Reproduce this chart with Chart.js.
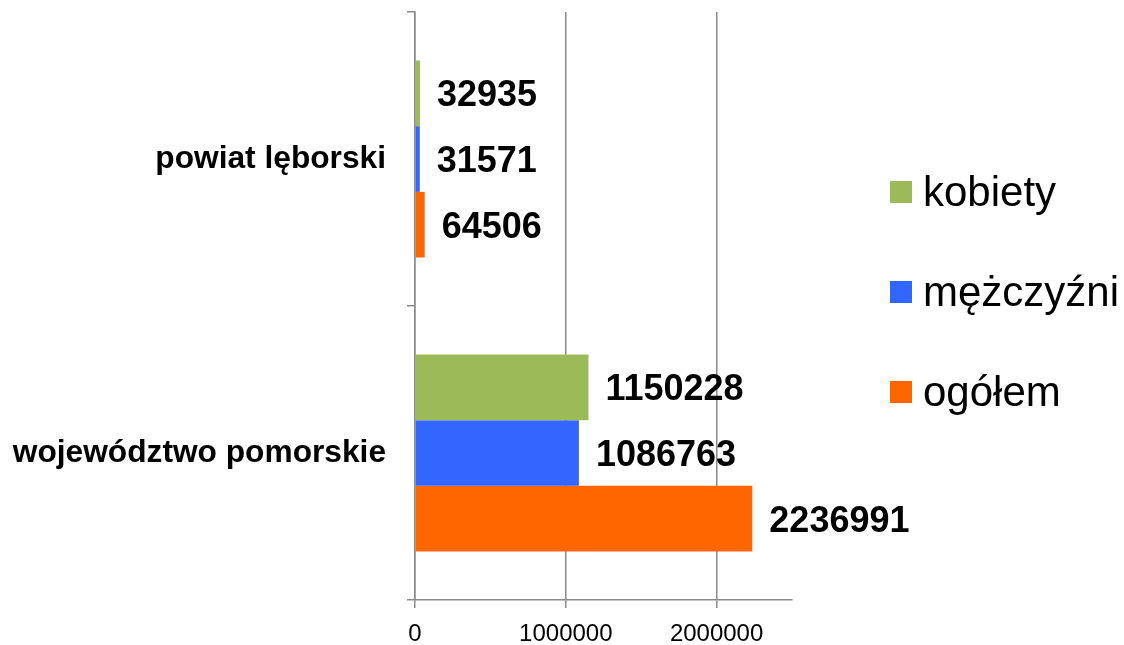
<!DOCTYPE html>
<html>
<head>
<meta charset="utf-8">
<script src="https://cdn.jsdelivr.net/npm/chart.js"></script>
<style>
  body { margin: 0; background: #fff; }
  #wrap { position: relative; width: 1124px; height: 645px; }
  #legend { position: absolute; left: 890px; top: 142px; font-family: "Liberation Sans", Arial, sans-serif; }
  #legend .item { height: 100px; display: flex; align-items: center; font-size: 42px; line-height: 1; color: #000; }
  #legend .box { width: 22px; height: 22px; margin-right: 11px; }
</style>
</head>
<body>
<div id="wrap">
  <canvas id="chart" width="1124" height="645"></canvas>
  <div id="legend"></div>
</div>
<script>
// Data
const categories = ['powiat lęborski', 'województwo pomorskie'];
const kobiety = [32935, 1150228];
const mezczyzni = [31571, 1086763];
const ogolem = [64506, 2236991];
const xTicks = [0, 1000000, 2000000];

const seriesNames = ['kobiety', 'mężczyźni', 'ogółem'];
const seriesColors = ['#9BBB59', '#3366FF', '#FF6600'];
const seriesData = [kobiety, mezczyzni, ogolem];

const gray = '#8a8a8a';
const font = '"Liberation Sans", Arial, sans-serif';

// value labels right of each bar
const valueLabels = {
    id: 'valueLabels',
    afterDatasetsDraw(chart) {
        const ctx = chart.ctx;
        ctx.save();
        ctx.font = 'bold 36px ' + font;
        ctx.fillStyle = '#000';
        ctx.textBaseline = 'middle';
        ctx.textAlign = 'left';
        chart.data.datasets.forEach((ds, i) => {
            chart.getDatasetMeta(i).data.forEach((bar, j) => {
                ctx.fillText(String(ds.data[j]), bar.x + 17, bar.y + 3);
            });
        });
        ctx.restore();
    }
};

new Chart(document.getElementById('chart').getContext('2d'), {
    type: 'bar',
    data: {
        labels: categories,
        datasets: seriesNames.map((name, i) => ({
            label: name,
            data: seriesData[i],
            backgroundColor: seriesColors[i],
            categoryPercentage: 0.67,
            barPercentage: 1.0
        }))
    },
    options: {
        indexAxis: 'y',
        responsive: false,
        animation: false,
        layout: { padding: { top: 12, right: 332, left: 0, bottom: 0 } },
        plugins: { legend: { display: false }, tooltip: { enabled: false } },
        scales: {
            x: {
                min: 0,
                max: 2500000,
                afterBuildTicks: axis => { axis.ticks = xTicks.map(v => ({ value: v })); },
                afterFit: scale => { scale.height = 45; },
                grid: { color: gray, lineWidth: 1.5, tickLength: 8 },
                border: { color: gray, width: 1.5 },
                ticks: {
                    color: '#000',
                    font: { family: font, size: 24 },
                    padding: 12,
                    maxRotation: 0,
                    callback: v => String(v)
                }
            },
            y: {
                afterFit: scale => {
                    scale.width = 415;
                    scale.paddingTop = 0;
                    scale.paddingBottom = 0;
                },
                grid: { offset: true, drawOnChartArea: false, color: gray, lineWidth: 1.5, tickLength: 8 },
                border: { color: gray, width: 1.5 },
                ticks: {
                    color: '#000',
                    font: { family: font, size: 31.7, weight: 'bold' },
                    padding: 21
                }
            }
        }
    },
    plugins: [valueLabels]
});

// Legend
document.getElementById('legend').innerHTML = seriesNames.map((name, i) =>
    '<div class="item"><span class="box" style="background:' + seriesColors[i] + '"></span>' + name + '</div>'
).join('');
</script>
</body>
</html>
